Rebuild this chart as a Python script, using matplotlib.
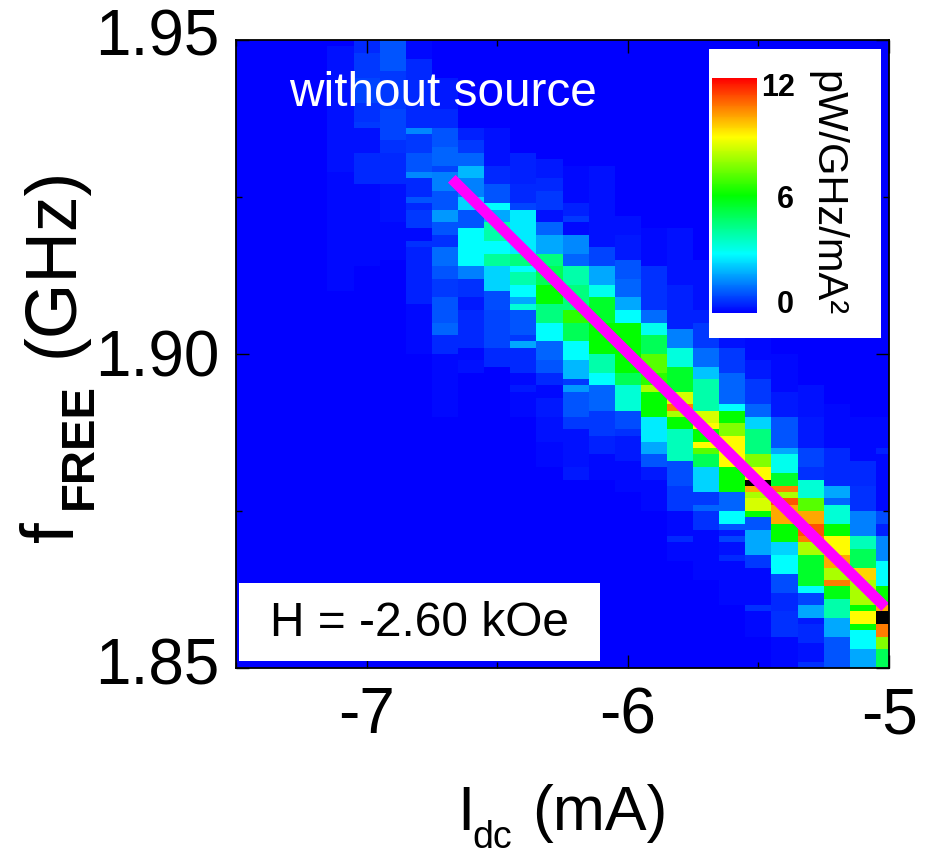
import matplotlib
matplotlib.use('Agg')
import matplotlib.pyplot as plt
import numpy as np
from matplotlib.colors import LinearSegmentedColormap
from matplotlib.patches import Rectangle
from matplotlib.transforms import ScaledTranslation

plt.rcParams['font.family'] = ['Liberation Sans', 'DejaVu Sans']

W, H = 925, 857

# bias current of each measured column (mA)
currents = [round(-7.5 + 0.1 * i, 1) for i in range(26)]
# frequency grid, 1 MHz rows counted down from the top of the plot
f_top = 1.95
f_step = 0.001
n_rows = 100

# power, one column per current: (first row, level) runs
spectra = {
    -7.1: [(1, .2), (21, .1), (40, 0)],
    -7.0: [(0, .5), (2, .7), (6, .8), (10, .6), (13, .7), (14, .2), (18, .5), (23, .1), (36, 0)],
    -6.9: [(0, 1.0), (5, .7), (11, .8), (16, .6), (18, .5), (23, .2), (29, .1), (35, 0)],
    -6.8: [(0, .1), (3, .5), (14, 1.6), (15, .7), (18, 1.0), (21, 1.6), (22, .5), (25, 1.0), (26, .5),
           (27, .7), (30, .1), (32, .6), (33, .4), (42, .1), (50, 0)],
    -6.7: [(6, .3), (11, .5), (14, 1.0), (17, 1.2), (20, .8), (21, 1.5), (24, 1.0), (27, 1.8), (29, 1.0),
           (31, .6), (33, 1.3), (36, 1.0), (38, .7), (41, 1.0), (45, 1.2), (47, .5), (50, .1), (60, 0)],
    -6.6: [(14, .4), (16, .7), (18, 1.2), (20, 2.2), (22, 1.5), (25, 2.5), (27, 1.0), (30, 3.0), (36, 1.5),
           (38, .6), (41, .3), (43, .5), (49, .1), (51, .2), (53, 0)],
    -6.5: [(14, .2), (20, .5), (23, 1.0), (26, 3.0), (27, 2.0), (29, 4.0), (32, 3.0), (34, 4.2), (36, 2.5),
           (40, .9), (43, .8), (49, .5), (52, 0)],
    -6.4: [(18, .4), (23, .5), (26, .8), (27, 2.8), (34, 4.5), (36, 3.0), (37, 4.0), (39, 3.0), (41, 2.0),
           (42, 3.5), (43, 1.0), (47, .7), (48, 2.0), (49, .5), (53, .1), (55, .3), (56, .1), (60, 0)],
    -6.3: [(19, .3), (22, .5), (24, .7), (27, .2), (29, 1.2), (31, 2.0), (34, 4.5), (36, 5.0), (39, 6.0),
           (42, 4.5), (45, 3.0), (48, 1.2), (51, 1.0), (53, .5), (55, .1), (57, .3), (60, .2), (64, .1), (68, 0)],
    -6.2: [(20, .1), (26, .4), (28, .7), (29, .1), (31, 1.6), (34, 1.2), (36, 4.0), (39, 4.5), (43, 6.5),
           (45, 5.0), (48, 3.0), (51, 2.2), (54, .7), (55, 1.8), (56, 1.0), (60, .7), (62, .2), (68, .3), (70, 0)],
    -6.1: [(20, .2), (33, .8), (36, 2.0), (39, 3.2), (41, 5.5), (45, 6.0), (50, 4.0), (53, 3.0), (55, 1.2),
           (59, .7), (63, .4), (66, .1), (70, 0)],
    -6.0: [(28, .2), (31, .3), (35, 1.0), (38, 1.2), (41, 2.0), (43, 3.0), (45, 6.0), (53, 5.0), (55, 3.5),
           (59, .9), (62, .6), (63, .3), (67, .1), (72, 0)],
    -5.9: [(30, .1), (36, .6), (43, 1.3), (45, 3.2), (47, 5.0), (50, 7.0), (53, 6.5), (55, 8.0), (56, 6.0),
           (60, 2.8), (64, 2.0), (66, 1.0), (68, .3), (70, .1), (75, 0)],
    -5.8: [(30, .2), (39, .4), (46, 1.5), (49, 3.4), (52, 5.5), (56, 8.5), (58, 10.5), (59, 8.0), (60, 6.0),
           (62, 3.8), (67, .9), (71, .7), (75, .1), (79, .5), (80, .1), (83, 0)],
    -5.7: [(35, .2), (43, .4), (45, .7), (49, 1.3), (52, 2.3), (54, 4.0), (59, 8.5), (61, 9.0), (62, 6.0),
           (64, 9.0), (65, 7.0), (66, 5.0), (68, 2.5), (72, .7), (74, 1.2), (75, .6), (78, .1), (86, 0)],
    -5.6: [(38, .2), (49, .7), (53, 1.2), (58, 3.0), (59, 6.0), (61, 7.5), (63, 9.0), (68, 6.0), (72, 1.2),
           (75, 3.0), (77, 1.0), (78, .3), (79, .8), (80, .2), (82, .5), (83, .1), (90, 0)],
    -5.5: [(42, .1), (51, .3), (54, .7), (58, 1.2), (60, 2.5), (62, 4.5), (66, 7.5), (68, 9.0), (70, 13.0),
           (71, 10.0), (72, 8.0), (73, 8.5), (75, 6.0), (76, 1.0), (78, 2.0), (82, .7), (84, .1), (90, .6),
           (91, .1), (95, 0)],
    -5.4: [(50, .1), (56, .3), (60, 1.0), (65, 2.0), (66, 3.2), (69, 5.5), (71, 10.5), (72, 8.0), (73, 11.0),
           (74, 10.0), (77, 6.0), (80, 2.5), (82, 3.0), (85, .9), (88, .5), (91, .6), (95, .1)],
    -5.3: [(55, .2), (60, .3), (65, .8), (68, .6), (70, 3.5), (73, 7.0), (75, 10.0), (77, 11.0), (79, 10.5),
           (80, 8.0), (82, 5.5), (87, 3.0), (88, .8), (90, 2.0), (92, .3), (93, .5), (96, .2), (99, .6)],
    -5.2: [(58, .1), (65, .5), (71, 2.0), (73, 1.2), (74, 3.5), (77, 6.0), (79, 9.0), (82, 10.0), (84, 8.0),
           (86, 10.5), (87, 5.8), (89, 4.0), (92, 2.0), (95, 1.0)],
    -5.1: [(60, .1), (67, .5), (71, .6), (75, 1.5), (79, 3.8), (81, 5.0), (84, 9.5), (86, 8.0), (90, 6.0),
           (91, 9.0), (93, 6.0), (94, 3.0), (97, 2.0)],
    -5.0: [(60, .1), (65, .4), (66, .1), (75, .9), (77, .4), (79, 1.6), (83, 3.0), (87, 6.0), (90, 10.0),
           (91, 13.0), (93, 10.5), (95, 7.5), (97, 5.0)],
}

# fitted line through the peak
fit_current = [-6.674, -5.015]
fit_freq = [1.9279, 1.8597]

cbar_ticks = ['12', '6', '0']


def fx(px):
    return px / W


def fy(py):
    return 1 - py / H


Z = np.zeros((n_rows, len(currents)))
for j, c in enumerate(currents):
    for k, (start, level) in enumerate(spectra.get(c, [])):
        runs = spectra[c]
        stop = runs[k + 1][0] if k + 1 < len(runs) else n_rows
        Z[start:stop, j] = level

cmap = LinearSegmentedColormap.from_list(
    'spectrum', ['#0000ff', '#00ffff', '#00ff00', '#ffff00', '#ff0000'], N=256)
cmap.set_over('black')

fig = plt.figure(figsize=(W / 100, H / 100), dpi=100)
ax = fig.add_axes([fx(236), fy(668), 653 / W, 628 / H])

x_edges = np.array(currents + [currents[-1] + 0.1]) - 0.05
y_edges = f_top - f_step * np.arange(n_rows + 1)
mesh = ax.pcolormesh(x_edges, y_edges, Z, cmap=cmap, vmin=0, vmax=12, shading='flat')
ax.plot(fit_current, fit_freq, color='#ff00ff', lw=7.8, solid_capstyle='butt')

ax.set_xlim(-7.5, -5)
ax.set_ylim(1.85, 1.95)
ax.set_xticks([-7, -6, -5])
ax.set_xticklabels(['-7', '-6', '-5'])
ax.set_xticks([-7.5, -6.5, -5.5], minor=True)
ax.set_yticks([1.85, 1.90, 1.95])
ax.set_yticklabels(['1.85', '1.90', '1.95'])
ax.set_yticks([1.875, 1.925], minor=True)
ax.tick_params(which='major', direction='in', top=True, right=True, length=9.5, width=1, labelsize=46)
ax.tick_params(which='minor', direction='in', top=True, right=True, length=4.5, width=1)
ax.tick_params(axis='x', which='major', pad=13)
ax.tick_params(axis='y', which='major', pad=12)
for s in ax.spines.values():
    s.set_linewidth(1.3)

# y labels sit a little above their ticks in the original
for label, shift in zip(ax.get_yticklabels(), [5, 1, 6]):
    label.set_transform(label.get_transform() + ScaledTranslation(0, shift / 72, fig.dpi_scale_trans))

# axis titles are placed by hand, the subscripts sit low in the original
fig.text(fx(457), fy(830), 'I', fontsize=45, ha='left', va='baseline')
fig.text(fx(472), fy(848), 'dc', fontsize=27, ha='left', va='baseline')
fig.text(fx(532), fy(830), '(mA)', fontsize=45, ha='left', va='baseline')
fig.text(fx(73), fy(542), 'f', fontsize=54, rotation=90, ha='left', va='baseline', rotation_mode='anchor')
fig.text(fx(92), fy(509), 'FREE', fontsize=34, fontweight='bold', rotation=90, ha='left', va='baseline',
         rotation_mode='anchor')
fig.text(fx(73), fy(357), '(GHz)', fontsize=51.5, rotation=90, ha='left', va='baseline', rotation_mode='anchor')

fig.text(fx(443), fy(93), 'without source', color='white', fontsize=34.4, ha='center', va='center')

fig.add_artist(Rectangle((fx(239), fy(661)), 361 / W, 78 / H, transform=fig.transFigure,
                         facecolor='white', edgecolor='none', zorder=1))
fig.text(fx(419), fy(624), 'H = -2.60 kOe', fontsize=34.5, ha='center', va='center', zorder=3)

# colour scale inset
fig.add_artist(Rectangle((fx(709), fy(338)), 172 / W, 289 / H, transform=fig.transFigure,
                         facecolor='white', edgecolor='none', zorder=1))
cax = fig.add_axes([fx(712), fy(313), 45 / W, 235 / H], zorder=5)
cbar = fig.colorbar(mesh, cax=cax, extend='neither')
cbar.set_ticks([])
cbar.outline.set_visible(False)
for label, px, py in zip(cbar_ticks, [778, 785, 785], [88, 200, 305]):
    fig.text(fx(px), fy(py), label, fontsize=22, fontweight='bold', ha='center', va='center', zorder=6)
fig.text(fx(826), fy(194), 'pW/GHz/mA²', fontsize=30, rotation=270, ha='center', va='center', zorder=6)

fig.savefig('out.png', dpi=100)
